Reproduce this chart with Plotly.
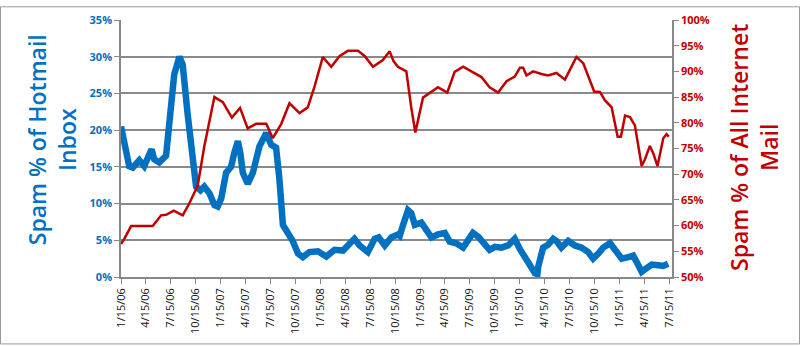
import pandas as pd
import plotly.graph_objects as go

# Days after 1/15/06 and values
hotmail_days = [0, 12, 30, 43, 67, 85, 98, 112, 122, 140, 165, 177, 195, 214, 226, 244, 263, 275,
                291, 305, 324, 342, 354, 367, 385, 403, 415, 428, 437, 446, 464, 483, 507, 532,
                550, 568, 580, 593, 611, 629, 648, 666, 690, 721, 752, 782, 813, 837, 855, 874,
                904, 929, 944, 966, 990, 1014, 1021, 1033, 1051, 1063, 1076, 1100, 1118, 1137,
                1161, 1186, 1204, 1228, 1253, 1271, 1289, 1308, 1332, 1350, 1369, 1393, 1418,
                1442, 1461, 1479, 1497, 1516, 1525, 1528, 1546, 1564, 1583, 1595, 1613, 1638,
                1662, 1687, 1711, 1729, 1748, 1766, 1791, 1809, 1834, 1858, 1876, 1889, 1907,
                1925, 1944, 1968, 1986, 2004]
hotmail_pct = [20.5, 18.7, 15.1, 14.9, 15.9, 15.1, 16.0, 17.4, 16.0, 15.6, 16.5, 20.9, 27.6, 30.0,
               28.9, 22.2, 14.7, 12.3, 11.8, 12.3, 11.4, 9.8, 9.6, 10.7, 14.2, 15.0, 16.9, 18.5,
               16.9, 14.2, 12.7, 14.2, 17.8, 19.6, 18.0, 17.6, 13.4, 7.1, 6.0, 4.9, 3.2, 2.7, 3.4,
               3.5, 2.8, 3.7, 3.6, 4.5, 5.2, 4.3, 3.4, 5.2, 5.4, 4.3, 5.4, 5.8, 5.6, 7.1, 9.1, 8.7,
               7.1, 7.4, 6.5, 5.4, 5.8, 6.0, 4.8, 4.6, 4.0, 5.2, 6.0, 5.5, 4.5, 3.7, 4.1, 4.0, 4.3,
               5.2, 3.8, 2.7, 2.0, 0.5, 0.4, 1.4, 4.0, 4.4, 5.2, 4.9, 4.0, 4.9, 4.3, 4.0, 3.4, 2.5,
               3.2, 4.0, 4.6, 3.6, 2.5, 2.7, 2.9, 2.0, 0.7, 1.2, 1.7, 1.6, 1.5, 1.8]

internet_days = [0, 12, 37, 116, 147, 165, 193, 226, 250, 281, 305, 342, 373, 406, 436, 464, 495,
                 532, 556, 587, 617, 654, 684, 709, 739, 770, 801, 831, 868, 892, 923, 959, 984,
                 998, 1014, 1045, 1063, 1078, 1106, 1137, 1161, 1195, 1222, 1253, 1289, 1320, 1350,
                 1381, 1412, 1442, 1461, 1473, 1485, 1509, 1540, 1564, 1595, 1626, 1644, 1668,
                 1693, 1711, 1733, 1754, 1772, 1797, 1819, 1831, 1846, 1864, 1882, 1907, 1919,
                 1937, 1949, 1965, 1986, 1998, 2006]
internet_pct = [56.4, 57.4, 59.9, 59.9, 62.0, 62.1, 62.9, 62.0, 64.3, 67.8, 75.4, 85.0, 84.0, 81.0,
                82.9, 78.9, 79.8, 79.8, 77.0, 79.8, 83.8, 81.9, 83.0, 87.1, 92.8, 90.9, 93.0, 94.0,
                94.0, 93.0, 90.9, 92.2, 93.9, 92.0, 90.9, 90.0, 83.0, 78.1, 84.9, 86.1, 86.9, 85.9,
                89.9, 90.9, 89.9, 88.9, 86.9, 85.9, 88.1, 89.0, 90.7, 90.7, 89.2, 90.0, 89.5, 89.2,
                89.7, 88.4, 90.3, 92.8, 91.6, 89.0, 86.1, 86.0, 84.4, 83.0, 77.3, 77.3, 81.4, 81.1,
                79.5, 71.6, 72.9, 75.5, 74.1, 71.6, 77.0, 77.8, 77.3]

tick_dates = ["2006-01-15", "2006-04-15", "2006-07-15", "2006-10-15",
              "2007-01-15", "2007-04-15", "2007-07-15", "2007-10-15",
              "2008-01-15", "2008-04-15", "2008-07-15", "2008-10-15",
              "2009-01-15", "2009-04-15", "2009-07-15", "2009-10-15",
              "2010-01-15", "2010-04-15", "2010-07-15", "2010-10-15",
              "2011-01-15", "2011-04-15", "2011-07-15"]
tick_labels = ["1/15/06", "4/15/06", "7/15/06", "10/15/06", "1/15/07", "4/15/07", "7/15/07",
               "10/15/07", "1/15/08", "4/15/08", "7/15/08", "10/15/08", "1/15/09", "4/15/09",
               "7/15/09", "10/15/09", "1/15/10", "4/15/10", "7/15/10", "10/15/10", "1/15/11",
               "4/15/11", "7/15/11"]
left_ticks = [0, 5, 10, 15, 20, 25, 30, 35]
right_ticks = [50, 55, 60, 65, 70, 75, 80, 85, 90, 95, 100]

start = pd.Timestamp("2006-01-15")
hx = [start + pd.Timedelta(days=d) for d in hotmail_days]
ix = [start + pd.Timedelta(days=d) for d in internet_days]

BLUE = "#0070C0"
RED = "#C00000"
W, H = 800, 346
L, R, T, B = 121, 128, 14, 69

fig = go.Figure()
fig.add_trace(go.Scatter(x=hx, y=hotmail_pct, mode="lines", line=dict(color=BLUE, width=6.5),
                         name="Hotmail", yaxis="y"))
fig.add_trace(go.Scatter(x=ix, y=internet_pct, mode="lines", line=dict(color=RED, width=2.5),
                         name="Internet", yaxis="y2"))

fig.update_layout(
    width=W, height=H,
    margin=dict(l=L, r=R, t=T, b=B),
    paper_bgcolor="white", plot_bgcolor="white",
    showlegend=False,
    font=dict(family="Open Sans, sans-serif"),
    xaxis=dict(type="date", range=[start, start + pd.Timedelta(days=2018)],
               tickvals=tick_dates, ticktext=tick_labels, tickangle=-90,
               tickfont=dict(size=11, color="#111"), showgrid=False,
               showline=True, linecolor="#888", linewidth=1.5,
               ticks="outside", ticklen=5, tickcolor="#888"),
    yaxis=dict(range=[0, 35], tickvals=left_ticks, ticktext=[f"{v}%" for v in left_ticks],
               tickfont=dict(size=11, color=BLUE, weight="bold"), showgrid=True,
               gridcolor="#8a8a8a", gridwidth=1.6, showline=True, linecolor="#888",
               linewidth=1.5, ticks="outside", ticklen=5, tickcolor="#888", zeroline=False),
    yaxis2=dict(range=[50, 100], tickvals=right_ticks, ticktext=[f"{v}%" for v in right_ticks],
                overlaying="y", side="right", tickfont=dict(size=11, color=RED, weight="bold"),
                showgrid=False, showline=True, linecolor="#888", linewidth=1.5,
                ticks="outside", ticklen=5, tickcolor="#888", zeroline=False),
)

pw = W - L - R
ph = H - T - B
def px(x):
    return (x - L) / pw
def py(y):
    return (H - B - y) / ph

fig.add_annotation(text="Spam % of Hotmail<br>Inbox", xref="paper", yref="paper",
                   x=px(52), y=py(137), textangle=-90, showarrow=False,
                   font=dict(size=23, color=BLUE, weight=600), xanchor="center", yanchor="middle")
fig.add_annotation(text="Spam % of All Internet<br>Mail", xref="paper", yref="paper",
                   x=px(754), y=py(145), textangle=-90, showarrow=False,
                   font=dict(size=23, color=RED, weight=600), xanchor="center", yanchor="middle")

fig.add_shape(type="rect", xref="paper", yref="paper",
              x0=px(0.5), x1=px(W - 0.5), y0=py(H - 0.5), y1=py(0.5),
              line=dict(color="#999", width=1), layer="below")

fig.write_html("out.html")
